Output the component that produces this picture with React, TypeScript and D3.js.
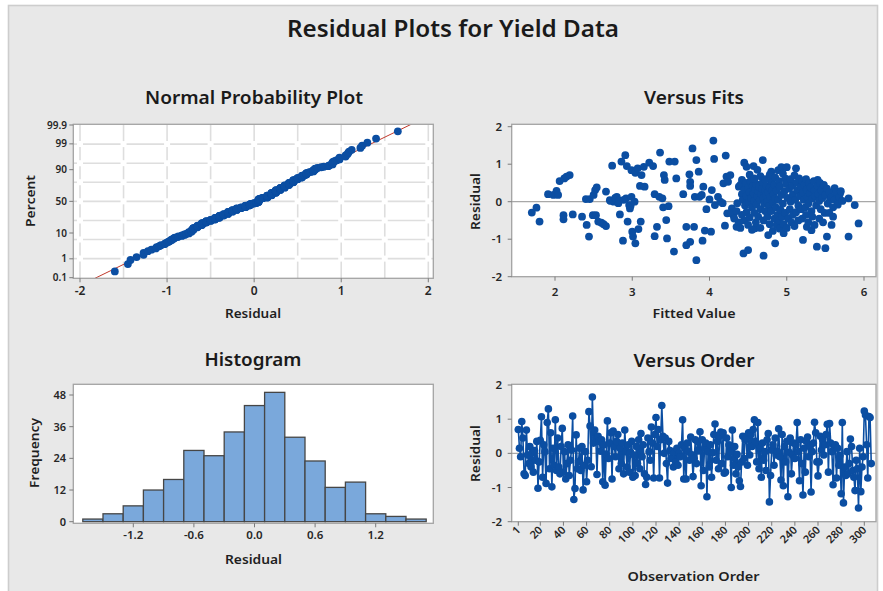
import React from 'react';
import * as d3 from 'd3';

// ---------- DATA ----------
const orderResiduals: number[] = [
  0.70, 0.15, -0.10, 0.93, 0.45, -0.60, -0.65, 0.68, -0.05, -0.30,
  0.20, -0.40, 0.02, -0.55, 0.08, -0.20, 0.35, -1.02, -0.25, 0.38,
  1.07, -0.70, 0.25, 0.05, -0.88, 0.90, 1.30, -0.45, 0.60, -0.98,
  0.15, -0.35, 0.98, -0.50, 0.45, -0.40, -0.60, 0.20, 0.73, -0.55,
  0.05, -0.75, -0.30, 0.25, -0.65, -0.20, 0.10, 1.09, -1.35, -1.03,
  0.54, -0.45, -0.25, 0.15, -0.50, 0.20, -1.07, -0.35, 0.05, -0.83,
  -0.20, 1.22, 0.80, -0.39, 1.65, 0.30, 0.68, 0.45, -0.62, 0.50,
  0.35, 0.06, 0.40, -0.83, 0.25, -0.93, -0.02, 0.95, -0.15, 0.30,
  0.60, -0.75, 0.65, 0.20, -0.10, 0.35, 0.55, -0.45, 0.15, -0.30,
  0.30, -0.60, 0.68, 0.05, -0.40, 0.25, -0.55, 0.04, 0.35, -0.70,
  -0.05, -0.65, 0.20, -0.30, 0.40, -0.45, 0.58, -0.10, 0.25, -0.60,
  -0.91, -0.70, 0.45, 0.05, -0.20, 0.77, 0.30, -0.72, 0.55, 1.05,
  0.20, 0.70, -0.72, 0.40, 1.40, 0.50, 0.00, 0.45, -0.30, -0.87,
  0.35, 0.08, -0.15, 0.05, -0.40, 0.03, -0.25, 0.15, -0.35, 0.00,
  -0.10, 0.25, 0.98, -0.75, 0.15, -0.75, 0.30, 0.05, -0.20, 0.48,
  -0.04, -0.68, -0.15, 0.40, -0.30, 0.35, 0.07, 0.63, -0.95, 0.40,
  -0.50, 0.15, 0.30, -1.27, 0.05, -0.40, 0.25, -0.70, 0.02, 0.55,
  0.86, -0.20, 0.35, -0.45, 0.50, 0.62, -0.30, 0.60, -0.58, -0.55,
  0.45, -0.10, 0.25, 0.05, -1.00, 0.68, -0.35, 0.20, -0.60, -0.03,
  -0.40, -0.80, -0.97, -0.25, 0.50, -0.15, 0.40, 0.45, -0.35, 0.60,
  -0.05, 0.55, 0.20, 0.70, 0.98, 0.35, -0.25, 0.90, -0.45, 0.15,
  -0.70, 0.30, -0.20, 0.05, -0.50, 0.40, 0.58, -1.42, -0.65, 0.10,
  0.25, -0.35, 0.45, -0.05, 0.06, 0.72, -0.10, -0.78, 0.55, -0.95,
  0.20, -0.25, 0.35, -1.27, 0.03, 0.45, -0.60, -0.05, 0.30, -0.15,
  0.25, 0.90, 0.05, -0.80, 0.40, -0.30, -1.22, 0.15, -0.55, 0.35,
  0.48, -0.10, 0.20, -1.13, 0.05, 0.30, 0.91, 0.60, -0.25, -0.66,
  -0.25, 0.50, 0.10, 0.40, -0.05, 0.25, 0.55, 0.85, -0.55, 0.87,
  0.30, 0.05, -0.92, 0.20, 0.25, -0.72, 0.15, -0.35, -0.06, -1.18,
  0.90, -1.45, -0.40, -0.65, 0.05, -0.60, -0.30, 0.42, 0.20, -0.50,
  -0.70, -1.09, -0.20, -0.45, -1.60, 0.15, -1.12, -0.40, -0.10, 1.24,
  1.12, 0.25, -0.72, 1.08, 1.05, -0.30,
];

// [fitted value, residual]
const fitPoints: [number, number][] = [
  [1.70, -0.29], [1.76, -0.16], [1.80, -0.53], [1.91, 0.20], [1.98, 0.18], [2.02, 0.29], [2.04, 0.18],
  [2.06, 0.55], [2.12, 0.62], [2.15, 0.67], [2.19, 0.71], [2.11, -0.36], [2.11, -0.47], [2.23, -0.34],
  [2.35, -0.40], [2.40, 0.07], [2.41, -0.62], [2.44, -0.93], [2.45, 0.07], [2.50, 0.18], [2.52, 0.31],
  [2.54, 0.38], [2.49, -0.36], [2.53, -0.36], [2.56, -0.53], [2.60, -0.56], [2.63, -0.60], [2.66, -0.65],
  [2.66, 0.27], [2.71, 0.04], [2.74, 0.96], [2.76, 0.00], [2.80, 0.13], [2.82, -0.04], [2.84, -0.34],
  [2.86, 1.07], [2.88, -1.04], [2.91, 1.24], [2.92, 0.09], [2.93, 0.95], [2.94, -0.53], [2.97, -0.18],
  [2.99, 0.84], [2.99, 0.13], [2.96, -0.09], [3.00, -0.80], [3.01, -0.93], [3.04, -1.11], [3.04, 0.77],
  [3.07, 0.89], [3.08, -0.73], [3.10, 0.42], [3.11, -0.53], [3.12, 0.71], [3.15, 0.93], [3.16, 0.40],
  [3.22, 1.04], [3.27, 0.95], [3.29, -0.92], [3.32, -0.67], [3.29, 0.20], [3.35, 0.13], [3.36, 1.31],
  [3.39, 0.09], [3.40, -0.15], [3.41, 0.71], [3.42, 0.58], [3.44, -0.49], [3.45, -0.98], [3.47, -0.12],
  [3.48, 1.07], [3.55, 1.07], [3.54, -1.33], [3.57, 0.62], [3.66, 0.20], [3.70, -0.67], [3.70, -1.16],
  [3.74, 0.73], [3.75, -1.07], [3.75, 0.53], [3.75, 0.42], [3.78, 1.42], [3.80, -0.67], [3.81, 0.13],
  [3.83, -1.56], [3.83, 1.11], [3.86, 0.80], [3.87, 0.13], [3.90, 0.18], [3.92, 0.40], [3.91, -1.04],
  [3.94, -0.77], [3.96, -0.20], [4.00, 0.06], [4.02, -0.80], [4.03, 0.31], [4.05, 1.63], [4.06, 1.14],
  [4.07, -0.09], [4.11, 0.13], [4.14, 0.00], [4.17, -0.04], [4.18, 0.49], [4.20, -0.64], [4.21, 1.23],
  [4.22, 0.67], [4.23, -0.31], [4.24, 0.53], [4.27, 0.71], [4.29, -0.18], [4.31, -0.36], [4.35, -0.67],
  [4.36, -0.04], [4.38, 0.40], [4.42, 0.58], [4.44, -1.38], [4.45, 1.04], [4.48, 0.93], [4.50, -1.29],
  [4.57, 0.95], [4.59, -0.71], [4.69, 1.11], [4.70, -1.44], [4.76, -0.89], [4.80, 0.80], [4.85, -1.11],
  [4.89, 0.84], [4.93, 0.92], [4.96, -0.84], [5.00, 0.92], [5.12, 0.89], [5.21, -1.02], [5.26, -0.67],
  [5.32, -0.76], [5.39, -1.20], [5.40, 0.58], [5.50, -1.24], [5.52, -0.93], [5.58, -0.62], [5.62, 0.36],
  [5.65, 0.18], [5.69, 0.22], [5.80, 0.09], [5.80, -0.93], [5.88, -0.09], [5.93, -0.58],
  [2.72, 0.02], [2.78, 0.10], [2.83, 0.03], [2.89, 0.05], [2.98, -0.10], [3.03, 0.00],
  // dense cluster
  [4.40, 0.45], [4.42, 0.20], [4.43, 0.05], [4.45, 0.32], [4.46, -0.10], [4.47, 0.50], [4.48, 0.15],
  [4.50, 0.38], [4.51, -0.02], [4.52, 0.25], [4.53, 0.55], [4.54, 0.10], [4.55, -0.15], [4.56, 0.42],
  [4.57, 0.22], [4.58, 0.02], [4.59, 0.33], [4.60, 0.48], [4.61, -0.08], [4.62, 0.15], [4.63, 0.28],
  [4.64, 0.40], [4.65, 0.05], [4.66, -0.20], [4.67, 0.20], [4.68, 0.35], [4.69, 0.52], [4.70, 0.10],
  [4.71, -0.05], [4.72, 0.30], [4.73, 0.18], [4.74, 0.42], [4.75, 0.00], [4.76, 0.25], [4.77, -0.12],
  [4.78, 0.38], [4.79, 0.12], [4.80, 0.55], [4.81, 0.30], [4.82, -0.02], [4.83, 0.20], [4.84, 0.45],
  [4.85, 0.08],
  [4.28, -0.30], [4.32, -0.45], [4.35, -0.25], [4.38, -0.55], [4.40, -0.70], [4.42, -0.35], [4.45, -0.50],
  [4.48, -0.28], [4.50, -0.62], [4.52, -0.42], [4.55, -0.75], [4.58, -0.30], [4.60, -0.55], [4.63, -0.40],
  [4.66, -0.70], [4.70, -0.50], [4.72, -0.25],
  [4.75, -0.40], [4.78, -0.60], [4.80, -0.25], [4.82, -0.78], [4.84, -0.45], [4.86, -0.15], [4.87, -0.62],
  [4.88, -0.35], [4.90, -0.50], [4.91, -0.72], [4.92, -0.22], [4.94, -0.40], [4.96, -0.60], [4.98, -0.30],
  [5.00, -0.70], [5.02, -0.45], [5.04, -0.20], [5.06, -0.55], [5.08, -0.35], [5.10, -0.65], [5.12, -0.28],
  [5.15, -0.50],
  [4.52, 0.72], [4.58, 0.62], [4.62, 0.85], [4.66, 0.68], [4.72, 0.60], [4.78, 0.72], [4.85, 0.65],
  [4.90, 0.55], [4.95, 0.75], [4.98, 0.62],
  [4.87, 0.30], [4.89, 0.05], [4.91, 0.40], [4.93, 0.18], [4.95, -0.05], [4.97, 0.28], [4.99, 0.48],
  [5.01, 0.10], [5.03, 0.35], [5.05, 0.00],
  [5.05, 0.60], [5.07, 0.42], [5.08, 0.20], [5.10, 0.70], [5.11, 0.05], [5.13, 0.50], [5.14, 0.30],
  [5.15, -0.10], [5.16, 0.62], [5.17, 0.15], [5.18, 0.40], [5.19, -0.20], [5.20, 0.55], [5.21, 0.25],
  [5.22, 0.05], [5.23, 0.45], [5.24, -0.15], [5.25, 0.60], [5.26, 0.32], [5.27, 0.12], [5.28, -0.05],
  [5.29, 0.50], [5.30, 0.22], [5.31, 0.38], [5.32, -0.25], [5.33, 0.08], [5.35, 0.55], [5.36, 0.30],
  [5.37, 0.15], [5.38, -0.10], [5.40, 0.42], [5.41, 0.20], [5.42, 0.02], [5.43, 0.50], [5.44, -0.20],
  [5.45, 0.30], [5.46, 0.10], [5.48, 0.45], [5.49, -0.30], [5.50, 0.18], [5.52, 0.35], [5.53, -0.05],
  [5.55, 0.25], [5.56, 0.05], [5.58, 0.12], [5.60, -0.15], [5.62, 0.05], [5.64, 0.25], [5.66, -0.08],
  [5.68, 0.12], [5.70, 0.28], [5.72, 0.02],
  [5.20, -0.45], [5.25, -0.35], [5.28, -0.55], [5.33, -0.40], [5.36, -0.62], [5.42, -0.45], [5.47, -0.55],
  [5.55, -0.30], [5.60, -0.40],
];

const histCenters = [-1.6, -1.4, -1.2, -1.0, -0.8, -0.6, -0.4, -0.2, 0.0, 0.2, 0.4, 0.6, 0.8, 1.0, 1.2, 1.4, 1.6];
const histCounts = [1, 3, 6, 12, 16, 27, 25, 34, 44, 49, 32, 23, 13, 15, 3, 2, 1];
const histBinWidth = 0.2;

const nppPercentTicks = [0.1, 1, 10, 50, 90, 99, 99.9];
const nppXTicks = [-2, -1, 0, 1, 2];
const nppGridX = [-2, -1.5, -1, -0.5, 0, 0.5, 1, 1.5, 2];
const fitsXTicks = [2, 3, 4, 5, 6];
const residTicks = [-2, -1, 0, 1, 2];
const histXTicks = [-1.2, -0.6, 0.0, 0.6, 1.2];
const histYTicks = [0, 12, 24, 36, 48];
const orderTicks = [1, 20, 40, 60, 80, 100, 120, 140, 160, 180, 200, 220, 240, 260, 280, 300];

// ---------- HELPERS ----------
function invNorm(p: number): number {
  const a = [-3.969683028665376e1, 2.209460984245205e2, -2.759285104469687e2, 1.38357751867269e2, -3.066479806614716e1, 2.506628277459239];
  const b = [-5.447609879822406e1, 1.615858368580409e2, -1.556989798598866e2, 6.680131188771972e1, -1.328068155288572e1];
  const c = [-7.784894002430293e-3, -3.223964580411365e-1, -2.400758277161838, -2.549732539343734, 4.374664141464968, 2.938163982698783];
  const d = [7.784695709041462e-3, 3.224671290700398e-1, 2.445134137142996, 3.754408661907416];
  const pl = 0.02425;
  if (p < pl) {
    const q = Math.sqrt(-2 * Math.log(p));
    return (((((c[0] * q + c[1]) * q + c[2]) * q + c[3]) * q + c[4]) * q + c[5]) / ((((d[0] * q + d[1]) * q + d[2]) * q + d[3]) * q + 1);
  }
  if (p <= 1 - pl) {
    const q = p - 0.5;
    const r = q * q;
    return ((((((a[0] * r + a[1]) * r + a[2]) * r + a[3]) * r + a[4]) * r + a[5]) * q) / (((((b[0] * r + b[1]) * r + b[2]) * r + b[3]) * r + b[4]) * r + 1);
  }
  const q = Math.sqrt(-2 * Math.log(1 - p));
  return -(((((c[0] * q + c[1]) * q + c[2]) * q + c[3]) * q + c[4]) * q + c[5]) / ((((d[0] * q + d[1]) * q + d[2]) * q + d[3]) * q + 1);
}

const FONT = "'Noto Sans', 'Open Sans', sans-serif";
const BLUE = '#0b4ea2';
const TXT = '#262626';
const FRAME = '#a3a3a3';
const TW = 600;

type Box = { x0: number; x1: number; y0: number; y1: number };

function Frame({ b, id }: { b: Box; id: string }) {
  return (
    <>
      <defs>
        <clipPath id={id}>
          <rect x={b.x0} y={b.y0} width={b.x1 - b.x0} height={b.y1 - b.y0} />
        </clipPath>
      </defs>
      <rect x={b.x0} y={b.y0} width={b.x1 - b.x0} height={b.y1 - b.y0} fill="#ffffff" stroke="none" />
    </>
  );
}
function FrameBorder({ b }: { b: Box }) {
  return <rect x={b.x0} y={b.y0} width={b.x1 - b.x0} height={b.y1 - b.y0} fill="none" stroke={FRAME} strokeWidth={1.3} />;
}

function Title({ x, y, text, len, size = 18 }: { x: number; y: number; text: string; len: number; size?: number }) {
  return (
    <text x={x} y={y} textAnchor="middle" fontFamily={FONT} fontWeight={600} fontSize={size} fill="#1a1a1a" textLength={len} lengthAdjust="spacingAndGlyphs">
      {text}
    </text>
  );
}
function AxisLabel({ x, y, text, len, rotate = false }: { x: number; y: number; text: string; len: number; rotate?: boolean }) {
  return (
    <text
      transform={rotate ? `translate(${x},${y}) rotate(-90)` : `translate(${x},${y})`}
      textAnchor="middle"
      fontFamily={FONT}
      fontWeight={600}
      fontSize={13}
      fill="#1f1f1f"
      textLength={len}
      lengthAdjust="spacingAndGlyphs"
    >
      {text}
    </text>
  );
}

export default function App() {
  // ----- Normal probability plot -----
  const nppBox: Box = { x0: 73.3, x1: 433.3, y0: 124.3, y1: 278.3 };
  const xN = d3.scaleLinear().domain([-2, 2]).range([80, 428.3]);
  const zMax = invNorm(0.999);
  const yN = d3.scaleLinear().domain([-zMax, zMax]).range([277.7, 125]);
  const sorted = [...orderResiduals].sort((a, b) => a - b);
  const n = sorted.length;
  const nppPts = sorted.map((v, i) => ({ x: v, z: invNorm((i + 1 - 0.3) / (n + 0.4)) }));
  const mean = d3.mean(orderResiduals) as number;
  const sd = d3.deviation(orderResiduals) as number;
  const gridZ = [-3, -2, -1, 0, 1, 2, 3].map((k) => (k * zMax) / 4);
  const gap = 3;
  const gridSegs: { x1: number; y1: number; x2: number; y2: number }[] = [];
  const hYs = gridZ.map((z) => yN(z)).sort((a, b) => a - b);
  const vXs = nppGridX.map((v) => xN(v)).sort((a, b) => a - b);
  vXs.forEach((x) => {
    const stops = [nppBox.y0, ...hYs, nppBox.y1];
    for (let i = 0; i < stops.length - 1; i++) {
      const s = i === 0 ? stops[i] : stops[i] + gap;
      const e = i === stops.length - 2 ? stops[i + 1] : stops[i + 1] - gap;
      gridSegs.push({ x1: x, y1: s, x2: x, y2: e });
    }
  });
  hYs.forEach((y) => {
    const stops = [nppBox.x0, ...vXs, nppBox.x1];
    for (let i = 0; i < stops.length - 1; i++) {
      const s = i === 0 ? stops[i] : stops[i] + gap;
      const e = i === stops.length - 2 ? stops[i + 1] : stops[i + 1] - gap;
      if (e > s) gridSegs.push({ x1: s, y1: y, x2: e, y2: y });
    }
  });

  // ----- Versus fits -----
  const fitBox: Box = { x0: 511.7, x1: 876, y0: 124.3, y1: 276.7 };
  const xF = d3.scaleLinear().domain([2, 6]).range([555, 864]);
  const yF = d3.scaleLinear().domain([-2, 2]).range([276.7, 126.7]);

  // ----- Histogram -----
  const histBox: Box = { x0: 73.3, x1: 433.3, y0: 384.3, y1: 523.3 };
  const xH = d3.scaleLinear().domain([-1.2, 1.2]).range([133.3, 375.7]);
  const yH = d3.scaleLinear().domain([0, 48]).range([521.7, 395]);

  // ----- Versus order -----
  const ordBox: Box = { x0: 511.7, x1: 876, y0: 384.3, y1: 521.7 };
  const xO = d3.scaleLinear().domain([1, 300]).range([518.3, 864.3]);
  const yO = d3.scaleLinear().domain([-2, 2]).range([521.7, 385]);
  const ordLine = d3
    .line<number>()
    .x((_, i) => xO(i + 1))
    .y((v) => yO(v))(orderResiduals) as string;

  const tickStroke = '#7a7a7a';

  return (
    <div style={{ position: 'absolute', left: 0, top: 0 }}>
      <svg width={883} height={591} style={{ display: 'block' }}>
        <rect x={0} y={0} width={883} height={591} fill="#ffffff" />
        <rect x={8.5} y={5.5} width={869} height={600} fill="#e8e8e8" stroke="#cdcdcd" strokeWidth={1.6} />

        <Title x={453} y={37} text="Residual Plots for Yield Data" len={332} size={23} />

        {/* ===== Normal Probability Plot ===== */}
        <Title x={254} y={103.5} text="Normal Probability Plot" len={218} />
        <Frame b={nppBox} id="clipN" />
        <g stroke="#dedede" strokeWidth={1.6}>
          {gridSegs.map((s, i) => (
            <line key={i} x1={s.x1} y1={s.y1} x2={s.x2} y2={s.y2} />
          ))}
        </g>
        <g clipPath="url(#clipN)">
          <line
            x1={xN(mean + sd * -3.3)}
            y1={yN(-3.3)}
            x2={xN(mean + sd * 3.3)}
            y2={yN(3.3)}
            stroke="#c0392b"
            strokeWidth={1}
          />
          {nppPts.map((p, i) => (
            <circle key={i} cx={xN(p.x)} cy={yN(p.z)} r={3.9} fill={BLUE} />
          ))}
        </g>
        <FrameBorder b={nppBox} />
        {nppXTicks.map((t) => (
          <g key={t}>
            <line x1={xN(t)} x2={xN(t)} y1={nppBox.y1} y2={nppBox.y1 + 4} stroke={tickStroke} />
            <text x={xN(t)} y={294.5} textAnchor="middle" fontFamily={FONT} fontWeight={TW} fontSize={12} fill={TXT}>
              {t}
            </text>
          </g>
        ))}
        {nppPercentTicks.map((p) => {
          const y = yN(invNorm(p / 100));
          return (
            <g key={p}>
              <line x1={nppBox.x0 - 4} x2={nppBox.x0} y1={y} y2={y} stroke={tickStroke} />
              <text x={67} y={y + 3.5} textAnchor="end" fontFamily={FONT} fontWeight={TW} fontSize={10} fill={TXT}>
                {p}
              </text>
            </g>
          );
        })}
        <AxisLabel x={253} y={317.5} text="Residual" len={56} />
        <AxisLabel x={34.5} y={201} text="Percent" len={52} rotate />

        {/* ===== Versus Fits ===== */}
        <Title x={694} y={103.5} text="Versus Fits" len={100} />
        <Frame b={fitBox} id="clipF" />
        <line x1={fitBox.x0} x2={fitBox.x1} y1={yF(0)} y2={yF(0)} stroke="#a8a8a8" strokeWidth={1.2} />
        <g clipPath="url(#clipF)">
          {fitPoints.map((p, i) => (
            <circle key={i} cx={xF(p[0])} cy={yF(p[1])} r={3.9} fill={BLUE} />
          ))}
        </g>
        <FrameBorder b={fitBox} />
        {fitsXTicks.map((t) => (
          <g key={t}>
            <line x1={xF(t)} x2={xF(t)} y1={fitBox.y1} y2={fitBox.y1 + 4} stroke={tickStroke} />
            <text x={xF(t)} y={296} textAnchor="middle" fontFamily={FONT} fontWeight={TW} fontSize={11.5} fill={TXT}>
              {t}
            </text>
          </g>
        ))}
        {residTicks.map((t) => (
          <g key={t}>
            <line x1={fitBox.x0 - 4} x2={fitBox.x0} y1={yF(t)} y2={yF(t)} stroke={tickStroke} />
            <text x={502} y={yF(t) + 4} textAnchor="end" fontFamily={FONT} fontWeight={TW} fontSize={11.5} fill={TXT}>
              {t}
            </text>
          </g>
        ))}
        <AxisLabel x={694} y={317.5} text="Fitted Value" len={83} />
        <AxisLabel x={479.5} y={201.5} text="Residual" len={57} rotate />

        {/* ===== Histogram ===== */}
        <Title x={253} y={366} text="Histogram" len={97} />
        <Frame b={histBox} id="clipH" />
        <g>
          {histCenters.map((c, i) => (
            <rect
              key={i}
              x={xH(c - histBinWidth / 2)}
              y={yH(histCounts[i])}
              width={xH(c + histBinWidth / 2) - xH(c - histBinWidth / 2)}
              height={yH(0) - yH(histCounts[i])}
              fill="#7aa8db"
              stroke="#464646"
              strokeWidth={1.3}
            />
          ))}
        </g>
        <FrameBorder b={histBox} />
        {histXTicks.map((t) => (
          <g key={t}>
            <line x1={xH(t)} x2={xH(t)} y1={histBox.y1} y2={histBox.y1 + 4} stroke={tickStroke} />
            <text x={xH(t)} y={538.5} textAnchor="middle" fontFamily={FONT} fontWeight={TW} fontSize={11.5} fill={TXT}>
              {t.toFixed(1)}
            </text>
          </g>
        ))}
        {histYTicks.map((t) => (
          <g key={t}>
            <line x1={histBox.x0 - 4} x2={histBox.x0} y1={yH(t)} y2={yH(t)} stroke={tickStroke} />
            <text x={66} y={yH(t) + 4} textAnchor="end" fontFamily={FONT} fontWeight={TW} fontSize={11} fill={TXT}>
              {t}
            </text>
          </g>
        ))}
        <AxisLabel x={253.5} y={564} text="Residual" len={57} />
        <AxisLabel x={39} y={453} text="Frequency" len={70} rotate />

        {/* ===== Versus Order ===== */}
        <Title x={694} y={366.5} text="Versus Order" len={121} />
        <Frame b={ordBox} id="clipO" />
        <line x1={ordBox.x0} x2={ordBox.x1} y1={yO(0)} y2={yO(0)} stroke="#a8a8a8" strokeWidth={1.2} />
        <g clipPath="url(#clipO)">
          <path d={ordLine} fill="none" stroke={BLUE} strokeWidth={1.6} />
          {orderResiduals.map((v, i) => (
            <circle key={i} cx={xO(i + 1)} cy={yO(v)} r={3.8} fill={BLUE} />
          ))}
        </g>
        <FrameBorder b={ordBox} />
        {orderTicks.map((t) => (
          <g key={t}>
            <line x1={xO(t)} x2={xO(t)} y1={ordBox.y1} y2={ordBox.y1 + 4} stroke={tickStroke} />
            <text
              transform={`translate(${xO(t) + 3},${ordBox.y1 + 9}) rotate(-45)`}
              textAnchor="end"
              fontFamily={FONT}
              fontWeight={TW}
              fontSize={11}
              fill={TXT}
            >
              {t}
            </text>
          </g>
        ))}
        {residTicks.map((t) => (
          <g key={t}>
            <line x1={ordBox.x0 - 4} x2={ordBox.x0} y1={yO(t)} y2={yO(t)} stroke={tickStroke} />
            <text x={502} y={yO(t) + 4} textAnchor="end" fontFamily={FONT} fontWeight={TW} fontSize={11.5} fill={TXT}>
              {t}
            </text>
          </g>
        ))}
        <AxisLabel x={693.5} y={581} text="Observation Order" len={132} />
        <AxisLabel x={480} y={453.5} text="Residual" len={57} rotate />
      </svg>
    </div>
  );
}
